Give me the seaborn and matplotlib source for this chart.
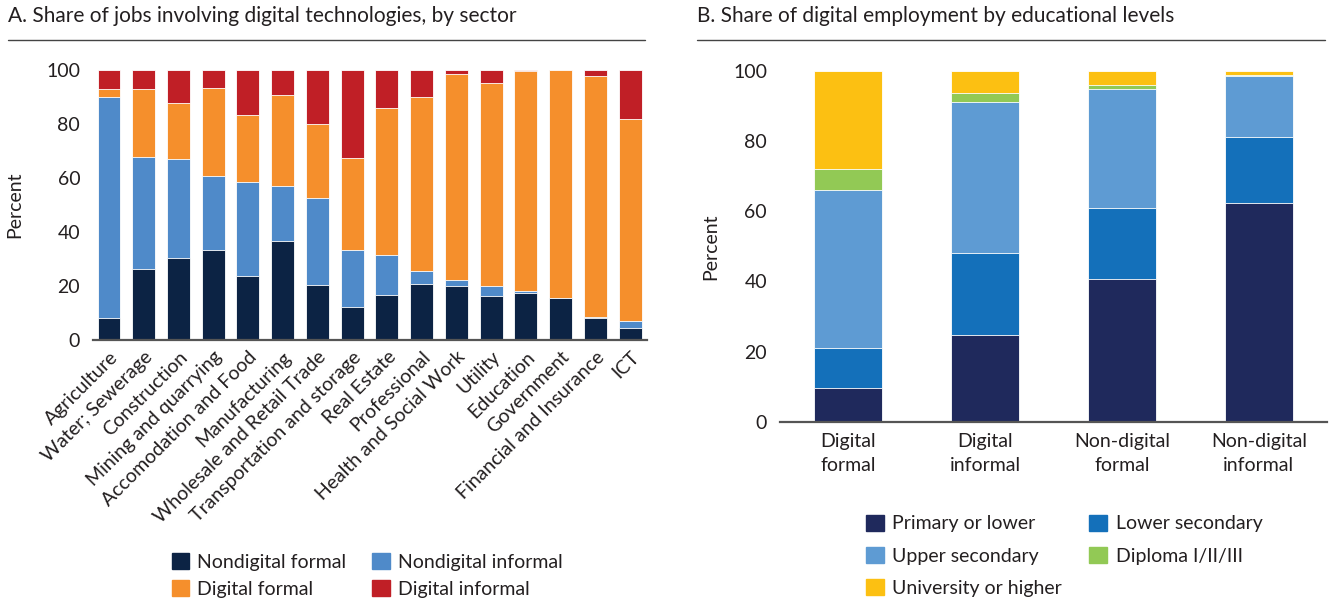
import matplotlib
matplotlib.use("Agg")
import matplotlib.pyplot as plt
from matplotlib.patches import Patch
from matplotlib.lines import Line2D
import pandas as pd
import seaborn as sns

# Panel A: share of jobs by sector (percent)
sectors = ["Agriculture", "Water; Sewerage", "Construction", "Mining and quarrying",
           "Accomodation and Food", "Manufacturing", "Wholesale and Retail Trade",
           "Transportation and storage", "Real Estate", "Professional",
           "Health and Social Work", "Utility", "Education", "Government",
           "Financial and Insurance", "ICT"]
nondigital_formal = [8.3, 26.4, 30.5, 33.5, 23.8, 36.7, 20.5, 12.3, 16.8, 20.9,
                     20.0, 16.3, 17.5, 15.4, 8.0, 4.3]
nondigital_informal = [81.8, 41.3, 36.7, 27.4, 34.8, 20.5, 32.2, 21.0, 14.7, 4.7,
                       2.1, 3.8, 0.5, 0.1, 0.5, 2.7]
digital_formal = [3.0, 25.3, 20.5, 32.6, 24.7, 33.7, 27.3, 34.2, 54.5, 64.5,
                  76.4, 75.2, 81.5, 84.5, 89.3, 74.9]
digital_informal = [6.9, 7.0, 12.3, 6.5, 16.7, 9.1, 20.0, 32.5, 14.0, 9.9,
                    1.5, 4.7, 0.5, 0.0, 2.2, 18.1]

# Panel B: digital employment by education (percent)
groups = ["Digital\nformal", "Digital\ninformal", "Non-digital\nformal", "Non-digital\ninformal"]
primary = [9.7, 24.6, 40.6, 62.5]
lower_secondary = [11.4, 23.6, 20.4, 18.6]
upper_secondary = [45.1, 42.9, 33.8, 17.5]
diploma = [6.0, 2.5, 1.3, 0.4]
university = [27.8, 6.4, 3.9, 1.0]

sns.set_theme(style="white")
plt.rcParams["font.family"] = ["Lato", "DejaVu Sans"]
TEXT = "#231f20"


def stacked(ax, cats, series, width):
    # draw cumulative totals from the top layer down so each layer shows
    df = pd.DataFrame({name: vals for name, vals, _ in series}, index=cats)
    cum = df.cumsum(axis=1)
    for name, _, color in reversed(series):
        sns.barplot(x=cats, y=cum[name].values, color=color, width=width,
                    edgecolor="white", linewidth=0.6, errorbar=None,
                    saturation=1, ax=ax)


def style_axis(ax):
    sns.despine(ax=ax, left=True)
    ax.spines["bottom"].set_color("#555555")
    ax.spines["bottom"].set_linewidth(1.6)
    ax.set_ylim(0, 100)
    ax.set_yticks(range(0, 101, 20))
    ax.tick_params(axis="both", length=0, labelsize=14, colors=TEXT)
    ax.tick_params(axis="y", pad=9)
    ax.set_ylabel("Percent", fontsize=14, color=TEXT)


fig = plt.figure(figsize=(13.33, 6.07), dpi=100)

# ---- panel A
ax1 = fig.add_axes([0.0695, 0.4399, 0.416, 0.4448])
series_a = [("Nondigital formal", nondigital_formal, "#0c2344"),
            ("Nondigital informal", nondigital_informal, "#4f8ac9"),
            ("Digital formal", digital_formal, "#f58f2c"),
            ("Digital informal", digital_informal, "#c01f26")]
stacked(ax1, sectors, series_a, 0.66)
style_axis(ax1)
ax1.set_xlim(-0.47, 15.49)
ax1.set_xlabel("")
ax1.set_xticks(range(len(sectors)))
ax1.set_xticklabels(sectors, rotation=45, ha="right", rotation_mode="anchor")
ax1.tick_params(axis="x", pad=6)
ax1.yaxis.set_label_coords(-0.125, 0.5)

handles_a = [Patch(color=c, label=n) for n, _, c in series_a]
fig.legend(handles=[handles_a[0], handles_a[2], handles_a[1], handles_a[3]],
           ncol=2, loc="upper left", bbox_to_anchor=(0.123, 0.102),
           frameon=False, fontsize=14, handlelength=0.9, handleheight=0.9,
           handletextpad=0.4, columnspacing=1.35, labelspacing=0.48,
           labelcolor=TEXT, borderaxespad=0)

# ---- panel B
ax2 = fig.add_axes([0.5848, 0.3053, 0.411, 0.5777])
series_b = [("Primary or lower", primary, "#1f295c"),
            ("Lower secondary", lower_secondary, "#1470ba"),
            ("Upper secondary", upper_secondary, "#5e9bd3"),
            ("Diploma I/II/III", diploma, "#92c955"),
            ("University or higher", university, "#fcc012")]
stacked(ax2, groups, series_b, 0.5)
style_axis(ax2)
ax2.set_xlim(-0.5, 3.5)
ax2.set_xticks(range(len(groups)))
ax2.set_xticklabels(groups, fontsize=14, linespacing=1.55)
ax2.tick_params(axis="x", pad=8)
ax2.yaxis.set_label_coords(-0.11, 0.5)

handles_b = [Patch(color=c, label=n) for n, _, c in series_b]
fig.legend(handles=[handles_b[0], handles_b[2], handles_b[4], handles_b[1], handles_b[3]],
           ncol=2, loc="upper left", bbox_to_anchor=(0.644, 0.165),
           frameon=False, fontsize=14, handlelength=0.9, handleheight=0.9,
           handletextpad=0.45, columnspacing=1.4, labelspacing=0.75,
           labelcolor=TEXT, borderaxespad=0)

# titles with rules underneath
fig.text(0.006, 0.974, "A. Share of jobs involving digital technologies, by sector",
         fontsize=15, color=TEXT, va="center")
fig.text(0.523, 0.974, "B. Share of digital employment by educational levels",
         fontsize=15, color=TEXT, va="center")
fig.add_artist(Line2D([0.006, 0.484], [0.934, 0.934], color="#444444", lw=1.0))
fig.add_artist(Line2D([0.523, 0.994], [0.934, 0.934], color="#444444", lw=1.0))

fig.savefig("out.png", dpi=100)
